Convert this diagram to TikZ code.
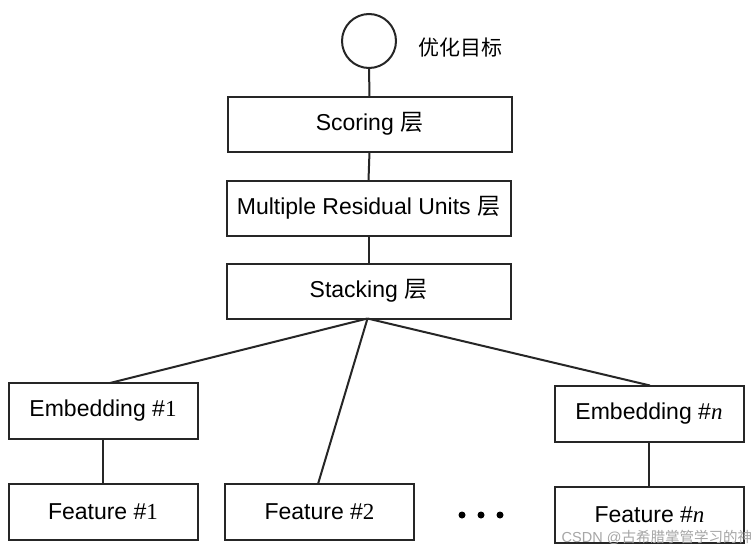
\documentclass[tikz,border=0pt]{standalone}
\usepackage{fontspec}
\setmainfont{Liberation Sans}
\newfontfamily\cjk{Noto Sans CJK SC}
\newfontfamily\numfont{Liberation Serif}
\newcommand{\ceng}{{\cjk 层}}
\begin{document}
\begin{tikzpicture}[x=1pt,y=-1pt,
  every node/.style={inner sep=0pt, outer sep=0pt},
  layerbox/.style={draw=black!85, line width=2pt, rectangle,
    minimum width=284pt, minimum height=55pt, font=\fontsize{23}{26}\selectfont},
  smallbox/.style={draw=black!85, line width=2pt, rectangle,
    minimum width=189pt, minimum height=56pt, font=\fontsize{23}{26}\selectfont},
  link/.style={draw=black!85, line width=2pt},
  dotmark/.style={circle, fill=black, minimum size=7pt}]
  % canvas
  \path[use as bounding box, fill=white] (0,0) rectangle (754,549);

  % objective circle and its label
  \node[circle, draw=black!85, line width=2pt, minimum size=54pt] (goal) at (369,41) {};
  \node[font=\cjk\fontsize{21}{24}\selectfont] (goallabel) at (460,48) {优化目标};

  % stacked layers
  \node[layerbox] (score) at (369.5,124) {Scoring \ceng};
  \node[layerbox] (mru) at (368.5,208) {Multiple Residual Units \ceng};
  \node[layerbox] (stack) at (368.5,291) {Stacking \ceng};

  % embedding and feature boxes
  \node[smallbox] (emb1) at (103,411) {Embedding \#{\numfont 1}};
  \node[smallbox] (feat1) at (103,512) {Feature \#{\numfont 1}};
  \node[smallbox] (feat2) at (319.5,512) {Feature \#{\numfont 2}};
  \node[smallbox] (embn) at (649,413.5) {Embedding \#{\numfont\itshape n}};
  \node[smallbox] (featn) at (649.5,515) {Feature \#{\numfont\itshape n}};

  % ellipsis between the feature boxes
  \node[dotmark] (d1) at (462,515) {};
  \node[dotmark] (d2) at (481,515) {};
  \node[dotmark] (d3) at (500,515) {};

  % connectors
  \draw[link] (goal.south) -- (score.north);
  \draw[link] (score.south) -- (mru.north);
  \draw[link] (mru.south) -- (stack.north);
  \draw[link] ([xshift=-1pt]stack.south) -- ([xshift=7pt]emb1.north);
  \draw[link] ([xshift=-1pt]stack.south) -- ([xshift=-1.5pt]feat2.north);
  \draw[link] ([xshift=-1pt]stack.south) -- ([xshift=1pt]embn.north);
  \draw[link] (emb1.south) -- (feat1.north);
  \draw[link] (embn.south) -- ([xshift=-0.5pt]featn.north);

  % watermark
  \node[anchor=east, text=black!35, font=\fontsize{14.5}{16}\selectfont] (mark) at (752,537) {CSDN @{\cjk 古希腊掌管学习的神}};
\end{tikzpicture}
\end{document}
